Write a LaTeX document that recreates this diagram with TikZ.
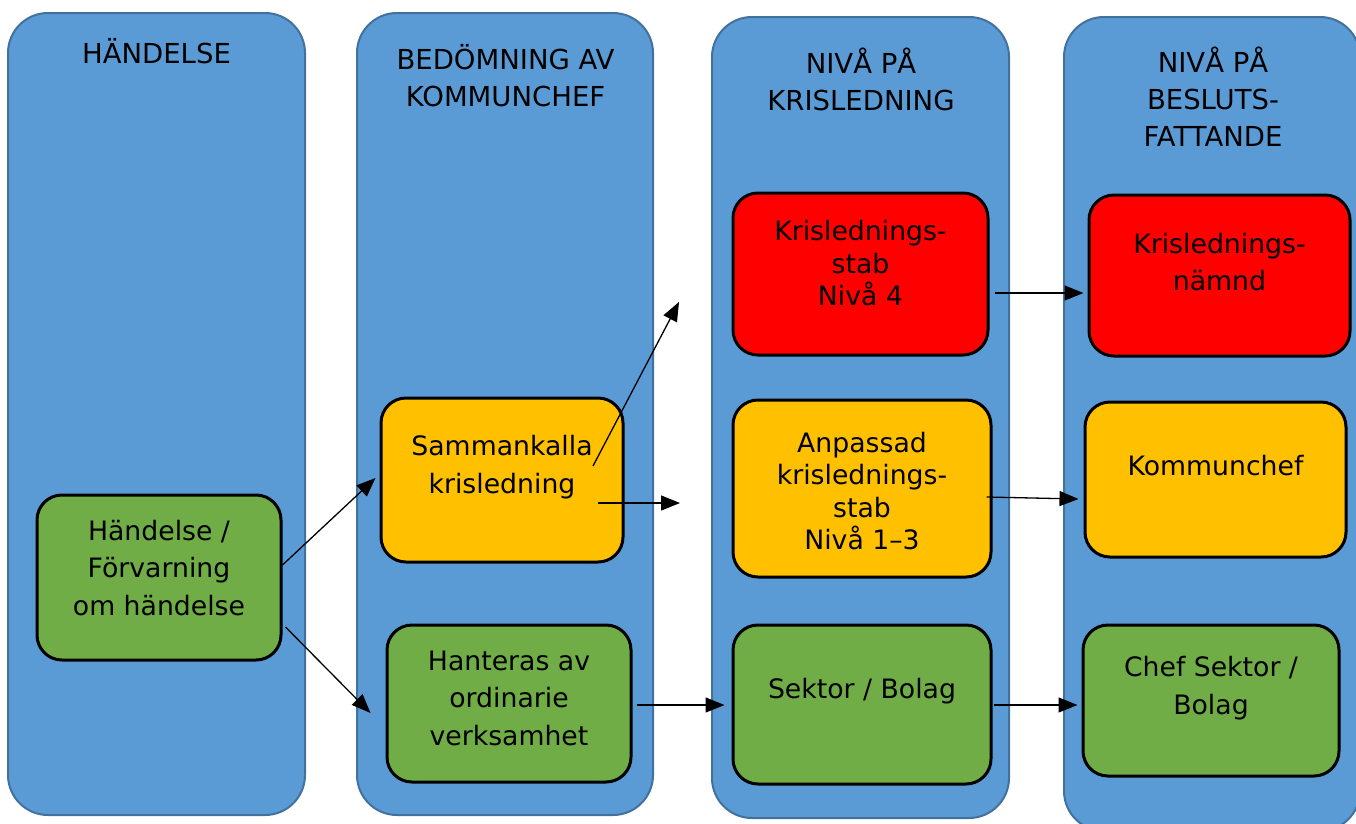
\documentclass[tikz,border=0pt]{standalone}
\usepackage{fontspec}
\setmainfont{DejaVu Sans}
\usetikzlibrary{arrows.meta,calc}
\definecolor{colfill}{HTML}{5B9BD5}
\definecolor{colline}{HTML}{41719C}
\definecolor{boxgreen}{HTML}{70AD47}
\definecolor{boxorange}{HTML}{FFC000}
\definecolor{boxred}{HTML}{FF0000}
\begin{document}
\begin{tikzpicture}[x=1pt,y=-1pt,
  column/.style={draw=colline, line width=2pt, fill=colfill, rounded corners=40pt, inner sep=0pt},
  box/.style={draw=black, line width=3pt, rounded corners=25pt, inner sep=0pt},
  hdr/.style={font=\fontsize{27.5}{37}\selectfont, align=center, inner sep=0pt},
  txt/.style={font=\fontsize{26.7}{37.5}\selectfont, align=center, inner sep=0pt},
  tighttxt/.style={font=\fontsize{26.7}{32.5}\selectfont, align=center, inner sep=0pt},
  arr/.style={-{Triangle[length=19pt,width=15pt]}, line width=1.3pt}]
\clip (0,0) rectangle (1356,823);
\fill[white] (0,0) rectangle (1356,823);
% columns
\node[column, minimum width=297pt, minimum height=802pt] (c1) at (156.5,414) {};
\node[column, minimum width=296pt, minimum height=802pt] (c2) at (505,414) {};
\node[column, minimum width=297pt, minimum height=801pt] (c3) at (860.5,417.5) {};
\node[column, minimum width=296pt, minimum height=814pt] (c4) at (1212,424) {};
% headers
\node[hdr] (h1) at (156.5,51) {HÄNDELSE};
\node[hdr] (h2) at (505.5,76) {BEDÖMNING AV\\KOMMUNCHEF};
\node[hdr] (h3) at (861,79) {NIVÅ PÅ\\KRISLEDNING};
\node[hdr] (h4) at (1213,97) {NIVÅ PÅ\\BESLUTS-\\FATTANDE};
% boxes
\node[box, fill=boxgreen, minimum width=244pt, minimum height=165pt,
  label={[txt,yshift=9.5pt]center:Händelse /\\Förvarning\\om händelse}] (h) at (159,577.5) {};
\node[box, fill=boxorange, minimum width=242pt, minimum height=164pt,
  label={[txt,yshift=13pt]center:Sammankalla\\krisledning}] (s) at (502,480) {};
\node[box, fill=boxgreen, minimum width=244pt, minimum height=157pt,
  label={[txt,yshift=5.5pt]center:Hanteras av\\ordinarie\\verksamhet}] (o) at (509,703.5) {};
\node[box, fill=boxred, minimum width=255pt, minimum height=162pt,
  label={[tighttxt,yshift=10.5pt]center:Krislednings-\\stab\\Nivå 4}] (k4) at (860.5,274) {};
\node[box, fill=boxorange, minimum width=258pt, minimum height=177pt,
  label={[tighttxt,yshift=-2.5pt]center:Anpassad\\krislednings-\\stab\\Nivå 1–3}] (an) at (862,488.5) {};
\node[box, fill=boxgreen, minimum width=258pt, minimum height=159pt,
  label={[txt,yshift=13pt]center:Sektor / Bolag}] (sb) at (862,704.5) {};
\node[box, fill=boxred, minimum width=261pt, minimum height=161pt,
  label={[txt,yshift=13.5pt]center:Krislednings-\\nämnd}] (kn) at (1219.5,275.5) {};
\node[box, fill=boxorange, minimum width=261pt, minimum height=155pt,
  label={[txt,yshift=14pt]center:Kommunchef}] (km) at (1215.5,479.5) {};
\node[box, fill=boxgreen, minimum width=256pt, minimum height=151pt,
  label={[txt,yshift=12.5pt]center:Chef Sektor /\\Bolag}] (cs) at (1211,700.5) {};
% free ends
\coordinate (f1) at (679,302);
\coordinate (f2) at (680,503);
% arrows
\draw[arr] ($(h.east)+(0,-12.5)$) -- ($(s.west)+(-4,-2)$);
\draw[arr] ($(h.east)+(3,49.5)$) -- ($(o.west)+(-15,9.5)$);
\draw[arr] ($(s.center)+(91,-14)$) -- (f1);
\draw[arr] ($(s.center)+(96,23)$) -- (f2);
\draw[arr] ($(o.east)+(4,1.5)$) -- ($(sb.west)+(-7,0.5)$);
\draw[arr] ($(k4.east)+(5,19)$) -- ($(kn.west)+(-4,17.5)$);
\draw[arr] ($(an.east)+(-6,8.5)$) -- ($(km.west)+(-5,19.5)$);
\draw[arr] ($(sb.east)+(1,0.5)$) -- ($(cs.west)+(-4,4.5)$);
\end{tikzpicture}
\end{document}
